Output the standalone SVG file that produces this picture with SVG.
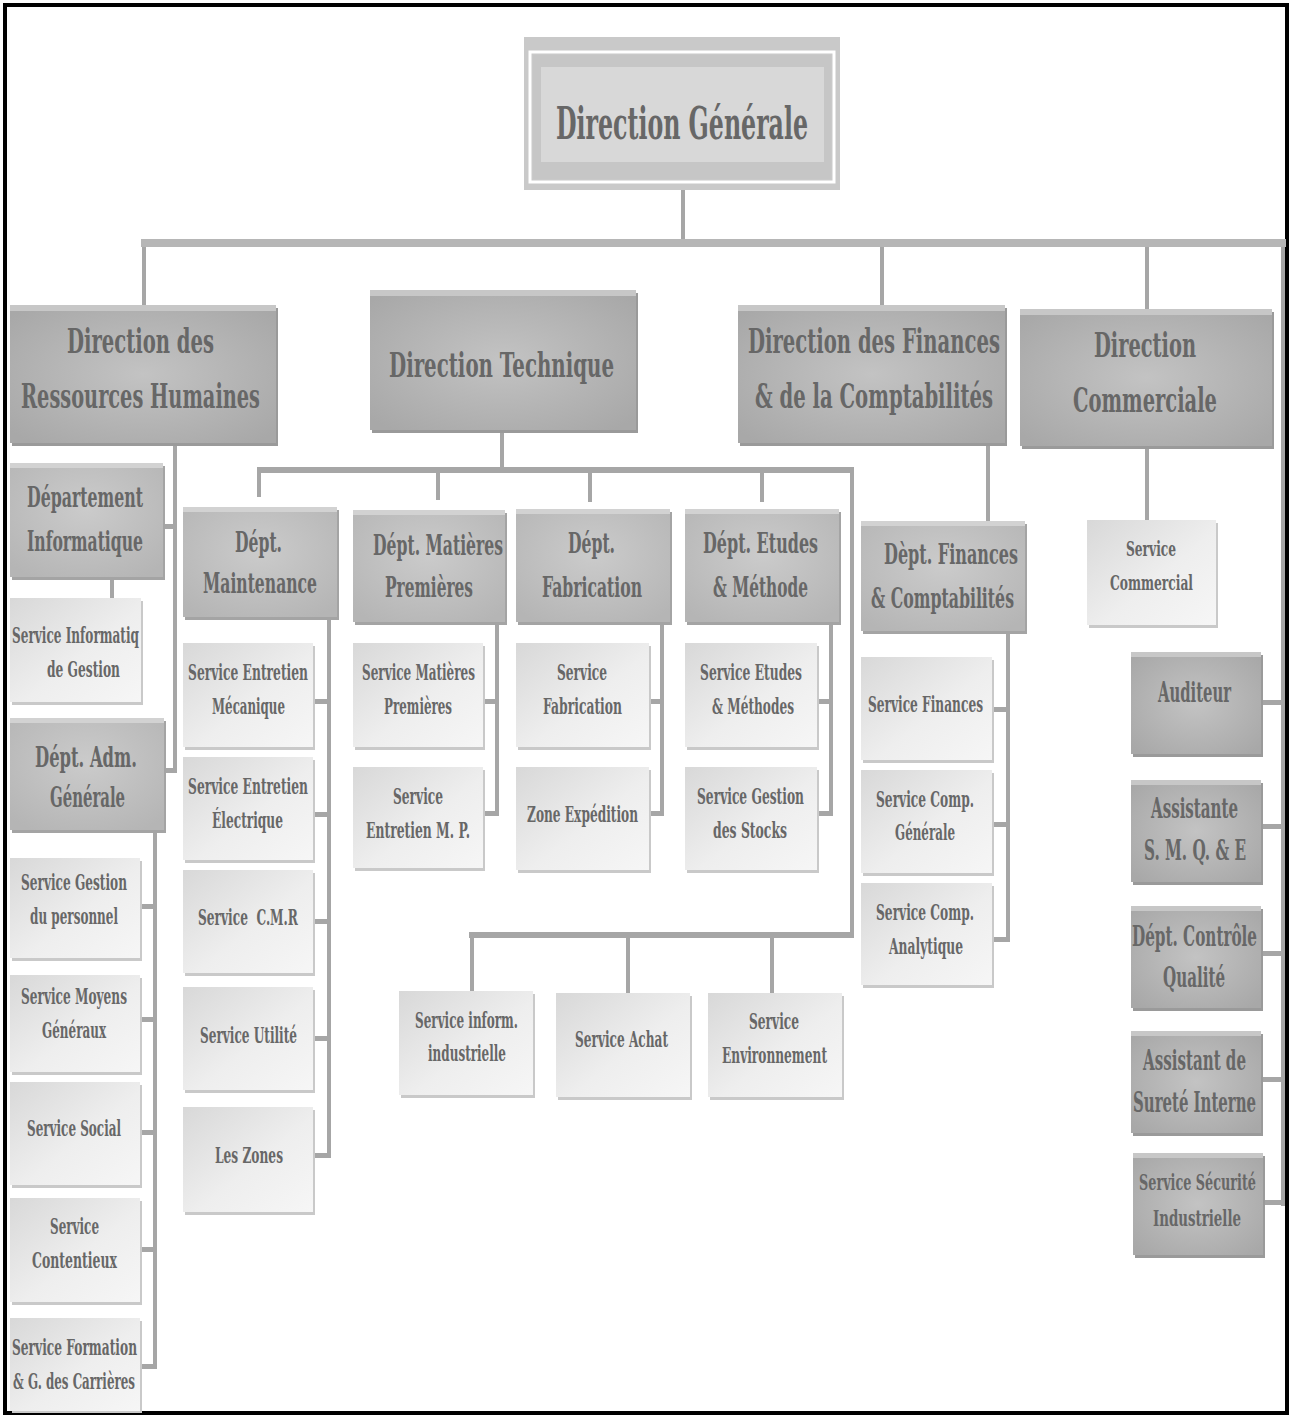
<svg xmlns="http://www.w3.org/2000/svg" width="1290" height="1416" viewBox="0 0 1290 1416">
<defs>
<radialGradient id="gDark" cx="50%" cy="50%" r="65%"><stop offset="0" stop-color="#c3c3c3"/><stop offset="1" stop-color="#a8a8a8"/></radialGradient>
<radialGradient id="gMed" cx="50%" cy="40%" r="70%"><stop offset="0" stop-color="#cbcbcb"/><stop offset="1" stop-color="#b5b5b5"/></radialGradient>
<linearGradient id="gLight" x1="0" y1="0" x2="1" y2="1"><stop offset="0" stop-color="#d8d8d8"/><stop offset="0.55" stop-color="#eeeeee"/><stop offset="1" stop-color="#f6f6f6"/></linearGradient>
</defs>
<style>
.bd{fill:url(#gDark)} .sd{fill:#9a9a9a} .hd{fill:#c7c7c7}
.bm{fill:url(#gMed)} .sm{fill:#a4a4a4} .hm{fill:#d2d2d2}
.bl{fill:url(#gLight)} .sl{fill:#c9c9c9}
.c{fill:#a6a6a6} .cl{stroke:#a6a6a6;stroke-width:4;fill:none}
text{font-family:"DejaVu Serif","Liberation Serif",serif;font-weight:bold;fill:#676767;text-anchor:middle}
.t1{font-size:45px} .t2{font-size:34px} .t3{font-size:27px} .t4{font-size:22px} .t5{font-size:20px}
</style>
<rect x="5" y="5" width="1282" height="1408" fill="#ffffff" stroke="#000000" stroke-width="4"/>

<g id="connectors">
<line class="cl" x1="683" y1="190" x2="683" y2="243" stroke="#b4b4b4"/>
<rect x="141" y="239" width="1145" height="8" fill="#b6b6b6"/>
<line class="cl" x1="144" y1="247" x2="144" y2="305"/>
<line class="cl" x1="882" y1="247" x2="882" y2="305"/>
<line class="cl" x1="1147" y1="247" x2="1147" y2="309"/>
<line class="cl" x1="1283" y1="247" x2="1283" y2="1206"/>
<rect class="c" x="1261" y="700" width="24" height="5"/>
<rect class="c" x="1261" y="824" width="24" height="5"/>
<rect class="c" x="1261" y="951" width="24" height="5"/>
<rect class="c" x="1261" y="1077" width="24" height="5"/>
<rect class="c" x="1261" y="1200" width="24" height="5"/>
<line class="cl" x1="1147" y1="446" x2="1147" y2="520"/>
<line class="cl" x1="175" y1="443" x2="175" y2="773"/>
<rect class="c" x="163" y="524" width="14" height="5"/>
<rect class="c" x="164" y="768" width="13" height="5"/>
<line class="cl" x1="112" y1="577" x2="112" y2="598"/>
<line class="cl" x1="155" y1="830" x2="155" y2="1369"/>
<rect class="c" x="140" y="904" width="17" height="5"/>
<rect class="c" x="140" y="1017" width="17" height="5"/>
<rect class="c" x="140" y="1130" width="17" height="5"/>
<rect class="c" x="140" y="1247" width="17" height="5"/>
<rect class="c" x="140" y="1364" width="17" height="5"/>
<line class="cl" x1="502" y1="430" x2="502" y2="470"/>
<rect class="c" x="257" y="467" width="597" height="6"/>
<line class="cl" x1="259" y1="473" x2="259" y2="497"/>
<line class="cl" x1="438" y1="473" x2="438" y2="500"/>
<line class="cl" x1="590" y1="473" x2="590" y2="502"/>
<line class="cl" x1="762" y1="473" x2="762" y2="502"/>
<line class="cl" x1="852" y1="470" x2="852" y2="938"/>
<rect class="c" x="469" y="932" width="385" height="6"/>
<line class="cl" x1="472" y1="938" x2="472" y2="991"/>
<line class="cl" x1="628" y1="938" x2="628" y2="993"/>
<line class="cl" x1="772" y1="938" x2="772" y2="993"/>
<line class="cl" x1="329" y1="617" x2="329" y2="1158"/>
<rect class="c" x="313" y="699" width="18" height="5"/>
<rect class="c" x="313" y="812" width="18" height="5"/>
<rect class="c" x="313" y="919" width="18" height="5"/>
<rect class="c" x="313" y="1036" width="18" height="5"/>
<rect class="c" x="313" y="1153" width="18" height="5"/>
<line class="cl" x1="497" y1="622" x2="497" y2="815"/>
<rect class="c" x="483" y="699" width="16" height="5"/>
<rect class="c" x="483" y="811" width="16" height="5"/>
<line class="cl" x1="662" y1="622" x2="662" y2="815"/>
<rect class="c" x="649" y="699" width="15" height="5"/>
<rect class="c" x="649" y="811" width="15" height="5"/>
<line class="cl" x1="831" y1="622" x2="831" y2="815"/>
<rect class="c" x="817" y="699" width="16" height="5"/>
<rect class="c" x="817" y="811" width="16" height="5"/>
<line class="cl" x1="988" y1="443" x2="988" y2="521"/>
<line class="cl" x1="1008" y1="631" x2="1008" y2="942"/>
<rect class="c" x="992" y="707" width="18" height="5"/>
<rect class="c" x="992" y="822" width="18" height="5"/>
<rect class="c" x="992" y="937" width="18" height="5"/>
</g>

<g id="direction-generale">
<rect x="524" y="37" width="316" height="153" fill="#c9c9c9"/>
<rect x="530" y="52" width="304" height="130" fill="none" stroke="#ffffff" stroke-width="3"/>
<rect x="533" y="55" width="298" height="124" fill="#c6c6c6"/>
<rect x="541" y="67" width="283" height="95" fill="#d8d8d8"/>
<text class="t1" transform="translate(682 139) scale(0.55 1)" textLength="458.2" lengthAdjust="spacingAndGlyphs">Direction Générale</text>
</g>

<g id="direction-rh">
<rect class="sd" x="12" y="308" width="266" height="138"/>
<rect class="bd" x="10" y="305" width="266" height="138"/>
<rect class="hd" x="10" y="305" width="266" height="6"/>
<text class="t2" transform="translate(140.5 353) scale(0.55 1)" textLength="267.3" lengthAdjust="spacingAndGlyphs">Direction des</text>
<text class="t2" transform="translate(140.5 408) scale(0.55 1)" textLength="434.5" lengthAdjust="spacingAndGlyphs">Ressources Humaines</text>
</g>

<g id="direction-technique">
<rect class="sd" x="372" y="293" width="266" height="140"/>
<rect class="bd" x="370" y="290" width="266" height="140"/>
<rect class="hd" x="370" y="290" width="266" height="6"/>
<text class="t2" transform="translate(501.5 377) scale(0.55 1)" textLength="409.1" lengthAdjust="spacingAndGlyphs">Direction Technique</text>
</g>

<g id="direction-finances">
<rect class="sd" x="740" y="308" width="267" height="138"/>
<rect class="bd" x="738" y="305" width="267" height="138"/>
<rect class="hd" x="738" y="305" width="267" height="6"/>
<text class="t2" transform="translate(874 353) scale(0.55 1)" textLength="458.2" lengthAdjust="spacingAndGlyphs">Direction des Finances</text>
<text class="t2" transform="translate(874 408) scale(0.55 1)" textLength="432.7" lengthAdjust="spacingAndGlyphs">&amp; de la Comptabilités</text>
</g>

<g id="direction-commerciale">
<rect class="sd" x="1022" y="312" width="252" height="137"/>
<rect class="bd" x="1020" y="309" width="252" height="137"/>
<rect class="hd" x="1020" y="309" width="252" height="6"/>
<text class="t2" transform="translate(1145 357) scale(0.55 1)" textLength="185.5" lengthAdjust="spacingAndGlyphs">Direction</text>
<text class="t2" transform="translate(1145 412) scale(0.55 1)" textLength="261.8" lengthAdjust="spacingAndGlyphs">Commerciale</text>
</g>

<g id="dept-informatique">
<rect class="sm" x="12" y="466" width="153" height="114"/>
<rect class="bm" x="10" y="463" width="153" height="114"/>
<rect class="hm" x="10" y="463" width="153" height="5"/>
<text class="t3" transform="translate(85 507) scale(0.55 1)" textLength="210.9" lengthAdjust="spacingAndGlyphs">Département</text>
<text class="t3" transform="translate(85 551) scale(0.55 1)" textLength="210.9" lengthAdjust="spacingAndGlyphs">Informatique</text>
</g>

<g id="service-informatique-gestion">
<rect class="sl" x="12" y="601" width="131" height="104"/>
<rect class="bl" x="10" y="598" width="131" height="104"/>
<text class="t4" transform="translate(75.5 643) scale(0.55 1)" textLength="230.9" lengthAdjust="spacingAndGlyphs">Service Informatiq</text>
<text class="t4" transform="translate(83.5 677) scale(0.55 1)" textLength="132.7" lengthAdjust="spacingAndGlyphs">de Gestion</text>
</g>

<g id="dept-adm-generale">
<rect class="sm" x="12" y="721" width="154" height="112"/>
<rect class="bm" x="10" y="718" width="154" height="112"/>
<rect class="hm" x="10" y="718" width="154" height="5"/>
<text class="t3" transform="translate(86 767) scale(0.55 1)" textLength="185.5" lengthAdjust="spacingAndGlyphs">Dépt. Adm.</text>
<text class="t3" transform="translate(87.5 807) scale(0.55 1)" textLength="136.4" lengthAdjust="spacingAndGlyphs">Générale</text>
</g>

<g id="service-gestion-personnel">
<rect class="sl" x="12" y="861" width="130" height="100"/>
<rect class="bl" x="10" y="858" width="130" height="100"/>
<text class="t4" transform="translate(74 890) scale(0.55 1)" textLength="192.7" lengthAdjust="spacingAndGlyphs">Service Gestion</text>
<text class="t4" transform="translate(74 924) scale(0.55 1)" textLength="160" lengthAdjust="spacingAndGlyphs">du personnel</text>
</g>
<g id="service-moyens-generaux">
<rect class="sl" x="12" y="978" width="130" height="97"/>
<rect class="bl" x="10" y="975" width="130" height="97"/>
<text class="t4" transform="translate(74 1004) scale(0.55 1)" textLength="192.7" lengthAdjust="spacingAndGlyphs">Service Moyens</text>
<text class="t4" transform="translate(74 1038) scale(0.55 1)" textLength="116.4" lengthAdjust="spacingAndGlyphs">Généraux</text>
</g>
<g id="service-social">
<rect class="sl" x="12" y="1085" width="130" height="103"/>
<rect class="bl" x="10" y="1082" width="130" height="103"/>
<text class="t4" transform="translate(74 1136) scale(0.55 1)" textLength="170.9" lengthAdjust="spacingAndGlyphs">Service Social</text>
</g>
<g id="service-contentieux">
<rect class="sl" x="12" y="1201" width="130" height="104"/>
<rect class="bl" x="10" y="1198" width="130" height="104"/>
<text class="t4" transform="translate(74.5 1234) scale(0.55 1)" textLength="89.1" lengthAdjust="spacingAndGlyphs">Service</text>
<text class="t4" transform="translate(74.5 1268) scale(0.55 1)" textLength="154.5" lengthAdjust="spacingAndGlyphs">Contentieux</text>
</g>
<g id="service-formation">
<rect class="sl" x="12" y="1321" width="130" height="92"/>
<rect class="bl" x="10" y="1318" width="130" height="93"/>
<text class="t4" transform="translate(74.5 1355) scale(0.55 1)" textLength="227.3" lengthAdjust="spacingAndGlyphs">Service Formation</text>
<text class="t4" transform="translate(74 1389) scale(0.55 1)" textLength="221.8" lengthAdjust="spacingAndGlyphs">&amp; G. des Carrières</text>
</g>

<g id="dept-maintenance">
<rect class="sm" x="185" y="510" width="154" height="110"/>
<rect class="bm" x="183" y="507" width="154" height="110"/>
<rect class="hm" x="183" y="507" width="154" height="5"/>
<text class="t3" transform="translate(258.5 552) scale(0.55 1)" textLength="85.5" lengthAdjust="spacingAndGlyphs">Dépt.</text>
<text class="t3" transform="translate(260 593) scale(0.55 1)" textLength="207.3" lengthAdjust="spacingAndGlyphs">Maintenance</text>
</g>
<g id="service-entretien-mecanique">
<rect class="sl" x="185" y="646" width="130" height="104"/>
<rect class="bl" x="183" y="643" width="130" height="104"/>
<text class="t4" transform="translate(248 680) scale(0.55 1)" textLength="218.2" lengthAdjust="spacingAndGlyphs">Service Entretien</text>
<text class="t4" transform="translate(248.5 714) scale(0.55 1)" textLength="132.7" lengthAdjust="spacingAndGlyphs">Mécanique</text>
</g>
<g id="service-entretien-electrique">
<rect class="sl" x="185" y="760" width="130" height="103"/>
<rect class="bl" x="183" y="757" width="130" height="103"/>
<text class="t4" transform="translate(248 794) scale(0.55 1)" textLength="218.2" lengthAdjust="spacingAndGlyphs">Service Entretien</text>
<text class="t4" transform="translate(247.5 828) scale(0.55 1)" textLength="129.1" lengthAdjust="spacingAndGlyphs">Électrique</text>
</g>
<g id="service-cmr">
<rect class="sl" x="185" y="873" width="130" height="103"/>
<rect class="bl" x="183" y="870" width="130" height="103"/>
<text class="t4" transform="translate(248 925) scale(0.55 1)" textLength="181.8" lengthAdjust="spacingAndGlyphs" xml:space="preserve">Service  C.M.R</text>
</g>
<g id="service-utilite">
<rect class="sl" x="185" y="990" width="130" height="103"/>
<rect class="bl" x="183" y="987" width="130" height="103"/>
<text class="t4" transform="translate(248.5 1043) scale(0.55 1)" textLength="176.4" lengthAdjust="spacingAndGlyphs">Service Utilité</text>
</g>
<g id="les-zones">
<rect class="sl" x="185" y="1110" width="130" height="105"/>
<rect class="bl" x="183" y="1107" width="130" height="105"/>
<text class="t4" transform="translate(249 1163) scale(0.55 1)" textLength="123.6" lengthAdjust="spacingAndGlyphs">Les Zones</text>
</g>

<g id="dept-matieres-premieres">
<rect class="sm" x="355" y="513" width="152" height="112"/>
<rect class="bm" x="353" y="510" width="152" height="112"/>
<rect class="hm" x="353" y="510" width="152" height="5"/>
<text class="t3" transform="translate(438 555) scale(0.55 1)" textLength="236.4" lengthAdjust="spacingAndGlyphs">Dépt. Matières</text>
<text class="t3" transform="translate(429 597) scale(0.55 1)" textLength="160" lengthAdjust="spacingAndGlyphs">Premières</text>
</g>
<g id="service-matieres-premieres">
<rect class="sl" x="355" y="646" width="130" height="104"/>
<rect class="bl" x="353" y="643" width="130" height="104"/>
<text class="t4" transform="translate(418.5 680) scale(0.55 1)" textLength="205.5" lengthAdjust="spacingAndGlyphs">Service Matières</text>
<text class="t4" transform="translate(418 714) scale(0.55 1)" textLength="123.6" lengthAdjust="spacingAndGlyphs">Premières</text>
</g>
<g id="service-entretien-mp">
<rect class="sl" x="355" y="770" width="130" height="101"/>
<rect class="bl" x="353" y="767" width="130" height="101"/>
<text class="t4" transform="translate(418 804) scale(0.55 1)" textLength="90.9" lengthAdjust="spacingAndGlyphs">Service</text>
<text class="t4" transform="translate(418 838) scale(0.55 1)" textLength="189.1" lengthAdjust="spacingAndGlyphs">Entretien M. P.</text>
</g>

<g id="dept-fabrication">
<rect class="sm" x="518" y="512" width="154" height="113"/>
<rect class="bm" x="516" y="509" width="154" height="113"/>
<rect class="hm" x="516" y="509" width="154" height="5"/>
<text class="t3" transform="translate(591.5 553) scale(0.55 1)" textLength="85.5" lengthAdjust="spacingAndGlyphs">Dépt.</text>
<text class="t3" transform="translate(592 597) scale(0.55 1)" textLength="181.8" lengthAdjust="spacingAndGlyphs">Fabrication</text>
</g>
<g id="service-fabrication">
<rect class="sl" x="518" y="646" width="133" height="104"/>
<rect class="bl" x="516" y="643" width="133" height="104"/>
<text class="t4" transform="translate(582 680) scale(0.55 1)" textLength="90.9" lengthAdjust="spacingAndGlyphs">Service</text>
<text class="t4" transform="translate(582.5 714) scale(0.55 1)" textLength="143.6" lengthAdjust="spacingAndGlyphs">Fabrication</text>
</g>
<g id="zone-expedition">
<rect class="sl" x="518" y="770" width="133" height="103"/>
<rect class="bl" x="516" y="767" width="133" height="103"/>
<text class="t4" transform="translate(582.5 822) scale(0.55 1)" textLength="201.8" lengthAdjust="spacingAndGlyphs">Zone Expédition</text>
</g>

<g id="dept-etudes-methode">
<rect class="sm" x="687" y="512" width="154" height="113"/>
<rect class="bm" x="685" y="509" width="154" height="113"/>
<rect class="hm" x="685" y="509" width="154" height="5"/>
<text class="t3" transform="translate(760.5 553) scale(0.55 1)" textLength="209.1" lengthAdjust="spacingAndGlyphs">Dépt. Etudes</text>
<text class="t3" transform="translate(760.5 597) scale(0.55 1)" textLength="172.7" lengthAdjust="spacingAndGlyphs">&amp; Méthode</text>
</g>
<g id="service-etudes-methodes">
<rect class="sl" x="687" y="646" width="132" height="104"/>
<rect class="bl" x="685" y="643" width="132" height="104"/>
<text class="t4" transform="translate(751 680) scale(0.55 1)" textLength="185.5" lengthAdjust="spacingAndGlyphs">Service Etudes</text>
<text class="t4" transform="translate(753 714) scale(0.55 1)" textLength="149.1" lengthAdjust="spacingAndGlyphs">&amp; Méthodes</text>
</g>
<g id="service-gestion-stocks">
<rect class="sl" x="687" y="770" width="132" height="103"/>
<rect class="bl" x="685" y="767" width="132" height="103"/>
<text class="t4" transform="translate(750.5 804) scale(0.55 1)" textLength="194.5" lengthAdjust="spacingAndGlyphs">Service Gestion</text>
<text class="t4" transform="translate(750 838) scale(0.55 1)" textLength="134.5" lengthAdjust="spacingAndGlyphs">des Stocks</text>
</g>

<g id="service-inform-industrielle">
<rect class="sl" x="401" y="994" width="134" height="104"/>
<rect class="bl" x="399" y="991" width="134" height="104"/>
<text class="t4" transform="translate(466.5 1028) scale(0.55 1)" textLength="187.3" lengthAdjust="spacingAndGlyphs">Service inform.</text>
<text class="t4" transform="translate(467 1061) scale(0.55 1)" textLength="141.8" lengthAdjust="spacingAndGlyphs">industrielle</text>
</g>
<g id="service-achat">
<rect class="sl" x="558" y="996" width="134" height="104"/>
<rect class="bl" x="556" y="993" width="134" height="104"/>
<text class="t4" transform="translate(621.5 1047) scale(0.55 1)" textLength="169.1" lengthAdjust="spacingAndGlyphs">Service Achat</text>
</g>
<g id="service-environnement">
<rect class="sl" x="710" y="996" width="134" height="104"/>
<rect class="bl" x="708" y="993" width="134" height="104"/>
<text class="t4" transform="translate(774 1029) scale(0.55 1)" textLength="90.9" lengthAdjust="spacingAndGlyphs">Service</text>
<text class="t4" transform="translate(774.5 1063) scale(0.55 1)" textLength="190.9" lengthAdjust="spacingAndGlyphs">Environnement</text>
</g>

<g id="dept-finances-comptabilites">
<rect class="sm" x="863" y="524" width="164" height="110"/>
<rect class="bm" x="861" y="521" width="164" height="110"/>
<rect class="hm" x="861" y="521" width="164" height="5"/>
<text class="t3" transform="translate(951 564) scale(0.55 1)" textLength="243.6" lengthAdjust="spacingAndGlyphs">Dèpt. Finances</text>
<text class="t3" transform="translate(942.5 608) scale(0.55 1)" textLength="260" lengthAdjust="spacingAndGlyphs">&amp; Comptabilités</text>
</g>
<g id="service-finances">
<rect class="sl" x="863" y="660" width="131" height="103"/>
<rect class="bl" x="861" y="657" width="131" height="103"/>
<text class="t4" transform="translate(925.5 712) scale(0.55 1)" textLength="209.1" lengthAdjust="spacingAndGlyphs">Service Finances</text>
</g>
<g id="service-comp-generale">
<rect class="sl" x="863" y="773" width="131" height="103"/>
<rect class="bl" x="861" y="770" width="131" height="103"/>
<text class="t4" transform="translate(925 807) scale(0.55 1)" textLength="178.2" lengthAdjust="spacingAndGlyphs">Service Comp.</text>
<text class="t4" transform="translate(925 840) scale(0.55 1)" textLength="109.1" lengthAdjust="spacingAndGlyphs">Générale</text>
</g>
<g id="service-comp-analytique">
<rect class="sl" x="863" y="886" width="131" height="102"/>
<rect class="bl" x="861" y="883" width="131" height="102"/>
<text class="t4" transform="translate(925 920) scale(0.55 1)" textLength="178.2" lengthAdjust="spacingAndGlyphs">Service Comp.</text>
<text class="t4" transform="translate(926 954) scale(0.55 1)" textLength="134.5" lengthAdjust="spacingAndGlyphs">Analytique</text>
</g>

<g id="service-commercial">
<rect class="sl" x="1089" y="523" width="129" height="105"/>
<rect class="bl" x="1087" y="520" width="129" height="105"/>
<text class="t5" transform="translate(1151 556) scale(0.55 1)" textLength="90.9" lengthAdjust="spacingAndGlyphs">Service</text>
<text class="t5" transform="translate(1151.5 590) scale(0.55 1)" textLength="150.9" lengthAdjust="spacingAndGlyphs">Commercial</text>
</g>

<g id="auditeur">
<rect class="sd" x="1133" y="655" width="130" height="102"/>
<rect class="bd" x="1131" y="652" width="130" height="102"/>
<rect class="hd" x="1131" y="652" width="130" height="5"/>
<text class="t3" transform="translate(1194.5 702) scale(0.55 1)" textLength="132.7" lengthAdjust="spacingAndGlyphs">Auditeur</text>
</g>
<g id="assistante-smqe">
<rect class="sd" x="1133" y="783" width="130" height="102"/>
<rect class="bd" x="1131" y="780" width="130" height="102"/>
<rect class="hd" x="1131" y="780" width="130" height="5"/>
<text class="t3" transform="translate(1194.5 818) scale(0.55 1)" textLength="158.2" lengthAdjust="spacingAndGlyphs">Assistante</text>
<text class="t3" transform="translate(1195 860) scale(0.55 1)" textLength="185.5" lengthAdjust="spacingAndGlyphs">S. M. Q. &amp; E</text>
</g>
<g id="dept-controle-qualite">
<rect class="sd" x="1133" y="909" width="130" height="102"/>
<rect class="bd" x="1131" y="906" width="130" height="102"/>
<rect class="hd" x="1131" y="906" width="130" height="5"/>
<text class="t3" transform="translate(1194.5 946) scale(0.55 1)" textLength="227.3" lengthAdjust="spacingAndGlyphs">Dépt. Contrôle</text>
<text class="t3" transform="translate(1194 987) scale(0.55 1)" textLength="112.7" lengthAdjust="spacingAndGlyphs">Qualité</text>
</g>
<g id="assistant-surete-interne">
<rect class="sd" x="1133" y="1034" width="130" height="102"/>
<rect class="bd" x="1131" y="1031" width="130" height="102"/>
<rect class="hd" x="1131" y="1031" width="130" height="5"/>
<text class="t3" transform="translate(1194.5 1070) scale(0.55 1)" textLength="187.3" lengthAdjust="spacingAndGlyphs">Assistant de</text>
<text class="t3" transform="translate(1194.5 1112) scale(0.55 1)" textLength="223.6" lengthAdjust="spacingAndGlyphs">Sureté Interne</text>
</g>
<g id="service-securite-industrielle">
<rect class="sd" x="1135" y="1156" width="130" height="102"/>
<rect class="bd" x="1133" y="1153" width="130" height="102"/>
<rect class="hd" x="1133" y="1153" width="130" height="5"/>
<text class="t4" transform="translate(1197.5 1190) scale(0.55 1)" textLength="212.7" lengthAdjust="spacingAndGlyphs">Service Sécurité</text>
<text class="t4" transform="translate(1197 1226) scale(0.55 1)" textLength="160" lengthAdjust="spacingAndGlyphs">Industrielle</text>
</g>
</svg>
